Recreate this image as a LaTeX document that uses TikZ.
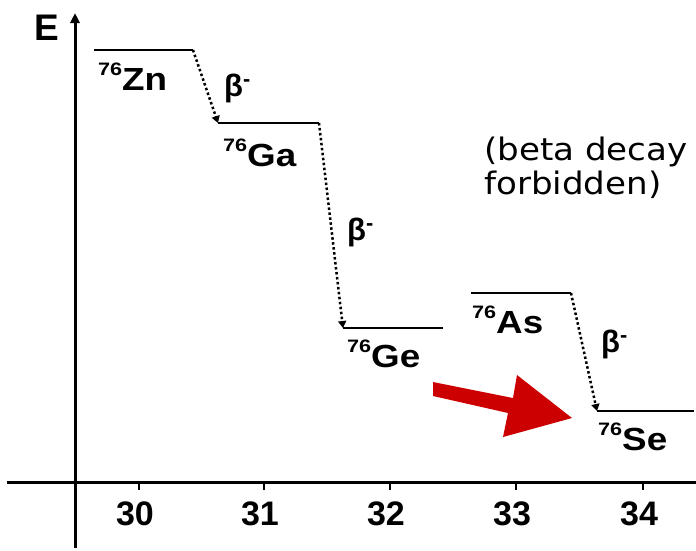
\documentclass[tikz,border=0pt]{standalone}
\usepackage{graphicx}
\usepackage{fontspec}
\setmainfont{Liberation Sans}
\newfontfamily\verd{DejaVu Sans}
\usetikzlibrary{arrows.meta}
\definecolor{arrred}{HTML}{CC0000}
\newcommand{\iso}[2]{\scalebox{1.2}[1]{\fontsize{18}{18}\selectfont\bfseries\raisebox{15pt}{#1}}\scalebox{1.15}[1]{\fontsize{32}{32}\selectfont\bfseries #2}}
\begin{document}
\begin{tikzpicture}[x=1pt,y=-1pt,
  level/.style={line width=2.7pt},
  axisline/.style={line width=3pt},
  decay/.style={line width=2.5pt, dash pattern=on 2.5pt off 2.5pt, -{Triangle[width=8pt,length=7pt]}},
  isolab/.style={anchor=base west, inner sep=0pt},
  betalab/.style={anchor=base west, inner sep=0pt, font=\fontsize{31}{31}\selectfont\bfseries},
  numlab/.style={anchor=base, inner sep=0pt, font=\fontsize{34}{34}\selectfont\bfseries},
  notelab/.style={anchor=base west, inner sep=0pt, font=\verd\fontsize{31}{31}\selectfont}]
\useasboundingbox (0,0) rectangle (696,550);
% axes
\coordinate (ybot) at (75,548);
\coordinate (ytop) at (75,13);
\coordinate (xl) at (7,482);
\coordinate (xr) at (696,482);
\draw[axisline,-{Triangle[width=9pt,length=10pt]}] (ybot) -- (ytop);
\draw[axisline] (xl) -- (xr);
\node[anchor=base west, inner sep=0pt, font=\fontsize{37}{37}\selectfont\bfseries] (E) at (34,40) {E};
\foreach \n/\x in {30/139,31/264,32/390,33/516,34/643}{
  \coordinate (t\n) at (\x,482);
  \draw[line width=2.5pt] (t\n) -- ++(0,8);
  \node[numlab] (n\n) at (\x-4,525) {\n};
}
% levels
\coordinate (zn1) at (94,50);   \coordinate (zn2) at (193,50);
\coordinate (ga1) at (218,123); \coordinate (ga2) at (319,123);
\coordinate (ge1) at (343,328); \coordinate (ge2) at (443,328);
\coordinate (as1) at (471,293); \coordinate (as2) at (571,293);
\coordinate (se1) at (597,411); \coordinate (se2) at (694,411);
\draw[level] (zn1) -- (zn2);
\draw[level] (ga1) -- (ga2);
\draw[level] (ge1) -- (ge2);
\draw[level] (as1) -- (as2);
\draw[level] (se1) -- (se2);
% decays
\draw[decay] (zn2) -- (ga1);
\draw[decay] (ga2) -- (ge1);
\draw[decay] (as2) -- (se1);
% labels
\node[isolab] (lzn) at (98,90) {\iso{76}{Zn}};
\node[isolab] (lga) at (223,166) {\iso{76}{Ga}};
\node[isolab] (lge) at (347,367) {\iso{76}{Ge}};
\node[isolab] (las) at (472,333) {\iso{76}{As}};
\node[isolab] (lse) at (598,450) {\iso{76}{Se}};
\node[betalab] (b1) at (224,96) {β\textsuperscript{-}};
\node[betalab] (b2) at (347,240) {β\textsuperscript{-}};
\node[betalab] (b3) at (601,352) {β\textsuperscript{-}};
\node[notelab] (note1) at (484,160) {\scalebox{1.1}[1]{(beta decay}};
\node[notelab] (note2) at (484,194) {\scalebox{1.1}[1]{forbidden)}};
% red arrow
\fill[arrred] (433,382) -- (513,398) -- (517,375) -- (572,418) -- (503,437) -- (508,413) -- (433,396) -- cycle;
\end{tikzpicture}
\end{document}
